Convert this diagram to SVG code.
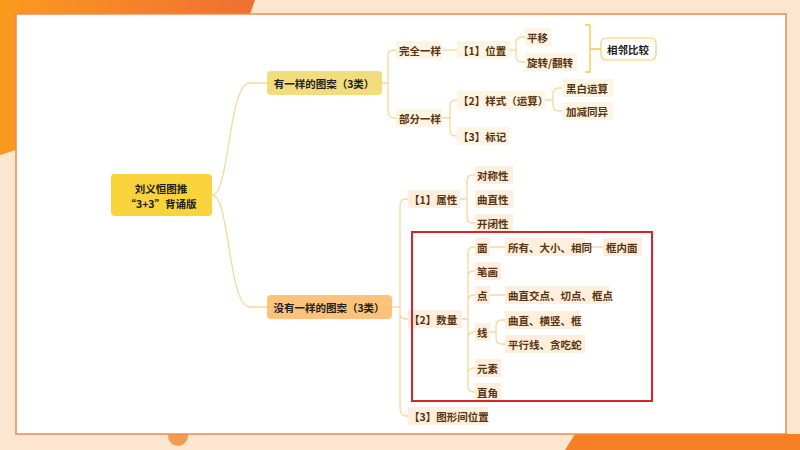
<svg xmlns="http://www.w3.org/2000/svg" width="800" height="450" viewBox="0 0 800 450">
<defs>
<linearGradient id="og" x1="0" y1="0" x2="1" y2="0"><stop offset="0" stop-color="#fb9a1e"/><stop offset="1" stop-color="#ef6f33"/></linearGradient>
<style>
text{font-family:"Noto Sans CJK SC","Noto Sans",sans-serif;font-size:10.5px;font-weight:bold;fill:#5a3510;dominant-baseline:central}
.c{fill:none;stroke:#f8d79a;stroke-width:1.3}
.l3{fill:#fdf4e3}
.lb{fill:#fdeedd}
.root text{fill:#222}
</style>
</defs>
<rect width="800" height="450" fill="#fde6cf"/>
<polygon points="0,0 255,0 250,14 16,14 16,150 0,155" fill="url(#og)"/>
<polygon points="575,434 800,434 800,450 565,450" fill="#f57f25"/>
<circle cx="178" cy="436" r="10" fill="#f39a52"/>
<rect x="16" y="14" width="770" height="420" fill="#fff" stroke="#f08a4b" stroke-width="1.5"/>

<g id="connectors" class="c">
<path d="M212,195 C230,195 228,83 250,83 L267,83"/>
<path d="M212,195 C230,195 228,307 250,307 L267,307"/>
<path d="M382,83 H388 M388,56 V110 M388,56 q0,-6 6,-6 h3 M388,110 q0,8 6,8 h3"/>
<path d="M440,50 H458"/>
<path d="M510,50 H516 M516,43 V56 M516,43 q0,-6 6,-6 h3 M516,56 q0,6 6,6 h3"/>
<path d="M440,118 H450 M450,106 V130 M450,106 q0,-6 6,-6 h2 M450,130 q0,6 6,6 h2"/>
<path d="M545,100 H553 M553,94 V105 M553,94 q0,-6 6,-6 h3 M553,105 q0,6 6,6 h3"/>
<path d="M392,307 H400 M400,205 V408 M400,205 q0,-6 6,-6 h4 M400,313 q0,6 6,6 h4 M400,408 q0,8 6,8 h4"/>
<path d="M460,199 H467 M467,181 V217 M467,181 q0,-6 6,-6 h2 M467,217 q0,6 6,6 h2"/>
<path d="M462,319 H468 M468,253 V386 M468,253 q0,-6 6,-6 h2 M468,277 q0,-6 6,-6 h2 M468,301 q0,-6 6,-6 h2 M468,338 q0,-6 6,-6 h2 M468,374 q0,-6 6,-6 h2 M468,386 q0,6 6,6 h2"/>
<path d="M488,247 H505 M585,247 H603 M488,295 H505"/>
<path d="M490,332 H496 M496,326 V338 M496,326 q0,-6 6,-6 h3 M496,338 q0,6 6,6 h3"/>
<path d="M585,25 H590 V72 H585 M590,49 H601" stroke="#f5c84e"/>
</g>

<g id="root" class="root"><rect x="111" y="174" width="101" height="42" rx="4" fill="#f8d33c"/><text x="161" y="188" text-anchor="middle">刘义恒图推</text><text x="161" y="203" text-anchor="middle">“3+3”背诵版</text></g>
<g id="a" class="root"><rect x="267" y="71" width="115" height="24" rx="4" fill="#f3dc7c"/><text x="324" y="83" text-anchor="middle">有一样的图案（3类）</text></g>
<g id="b" class="root"><rect x="267" y="295" width="125" height="24" rx="4" fill="#ffc27a"/><text x="329" y="307" text-anchor="middle">没有一样的图案（3类）</text></g>

<g id="a1"><rect class="l3" x="396" y="41" width="46" height="18"/><text x="399" y="50">完全一样</text></g>
<g id="a2"><rect class="l3" x="396" y="109" width="46" height="18"/><text x="399" y="118">部分一样</text></g>
<g id="a11"><rect class="l3" x="457" y="41" width="53" height="18"/><text x="458" y="50">【1】位置</text></g>
<g id="a111"><rect class="l3" x="525" y="28" width="26" height="18"/><text x="527" y="37">平移</text></g>
<g id="a112"><rect class="l3" x="525" y="53" width="52" height="18"/><text x="527" y="62">旋转/翻转</text></g>
<g id="cmp"><rect x="601" y="38" width="55" height="22" rx="5" fill="#fff" stroke="#f5d067" stroke-width="1.2"/><text x="628" y="49" text-anchor="middle" style="fill:#222">相邻比较</text></g>
<g id="a21"><rect class="l3" x="457" y="91" width="88" height="18"/><text x="458" y="100">【2】样式（运算）</text></g>
<g id="a211"><rect class="l3" x="563" y="79" width="50" height="18"/><text x="566" y="88">黑白运算</text></g>
<g id="a212"><rect class="l3" x="563" y="102" width="50" height="18"/><text x="566" y="111">加减同异</text></g>
<g id="a22"><rect class="l3" x="457" y="127" width="52" height="18"/><text x="458" y="136">【3】标记</text></g>

<g id="b1"><rect class="lb" x="408" y="190" width="52" height="18"/><text x="409" y="199">【1】属性</text></g>
<g id="b11"><rect class="lb" x="475" y="166" width="38" height="18"/><text x="477" y="175">对称性</text></g>
<g id="b12"><rect class="lb" x="475" y="190" width="38" height="18"/><text x="477" y="199">曲直性</text></g>
<g id="b13"><rect class="lb" x="475" y="214" width="38" height="18"/><text x="477" y="223">开闭性</text></g>
<g id="b2"><rect class="lb" x="408" y="310" width="54" height="18"/><text x="409" y="319">【2】数量</text></g>
<g id="b21"><rect class="lb" x="475" y="238" width="15" height="18"/><text x="477" y="247">面</text></g>
<g id="b211"><rect class="lb" x="505" y="238" width="80" height="18"/><text x="508" y="247">所有、大小、相同</text></g>
<g id="b212"><rect class="lb" x="603" y="238" width="39" height="18"/><text x="606" y="247">框内面</text></g>
<g id="b22"><rect class="lb" x="475" y="262" width="26" height="18"/><text x="477" y="271">笔画</text></g>
<g id="b23"><rect class="lb" x="475" y="286" width="15" height="18"/><text x="477" y="295">点</text></g>
<g id="b231"><rect class="lb" x="505" y="286" width="104" height="18"/><text x="508" y="295">曲直交点、切点、框点</text></g>
<g id="b24"><rect class="lb" x="475" y="323" width="15" height="18"/><text x="477" y="332">线</text></g>
<g id="b241"><rect class="lb" x="505" y="311" width="75" height="18"/><text x="508" y="320">曲直、横竖、框</text></g>
<g id="b242"><rect class="lb" x="505" y="335" width="80" height="18"/><text x="508" y="344">平行线、贪吃蛇</text></g>
<g id="b25"><rect class="lb" x="475" y="359" width="26" height="18"/><text x="477" y="368">元素</text></g>
<g id="b26"><rect class="lb" x="475" y="383" width="26" height="18"/><text x="477" y="392">直角</text></g>
<g id="b3"><rect class="lb" x="408" y="407" width="80" height="18"/><text x="409" y="416">【3】图形间位置</text></g>

<rect x="412" y="232" width="240" height="169" fill="none" stroke="#d9232a" stroke-width="2"/>
</svg>
